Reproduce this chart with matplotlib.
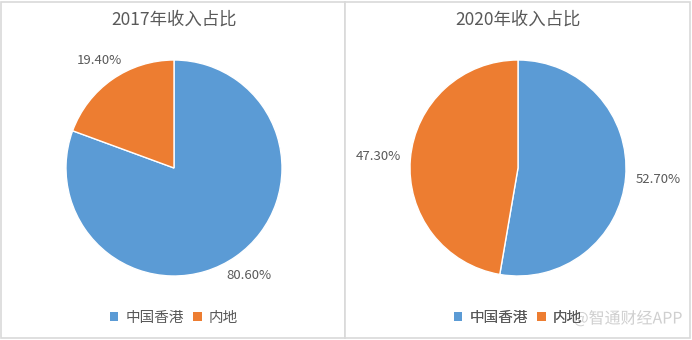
import matplotlib
matplotlib.use("Agg")
import matplotlib.pyplot as plt
from matplotlib.patches import Rectangle, Patch
import matplotlib.patheffects as pe

plt.rcParams['font.family'] = ['Noto Sans CJK SC', 'DejaVu Sans']

categories = ["中国香港", "内地"]
titles = ["2017年收入占比", "2020年收入占比"]
share_2017 = [80.60, 19.40]
share_2020 = [52.70, 47.30]
colors = ["#5B9BD5", "#ED7D31"]
text_color = "#595959"

W, H = 692, 340
fig = plt.figure(figsize=(W / 100, H / 100), dpi=100)
ax = fig.add_axes([0, 0, 1, 1])
ax.set_xlim(0, W)
ax.set_ylim(0, H)
ax.set_aspect('equal')
ax.axis('off')

# panels
border = "#d9d9d9"
ax.add_patch(Rectangle((1, 2), 344, 336, facecolor="white", edgecolor=border, lw=1.2))
ax.add_patch(Rectangle((345, 2), 345, 336, facecolor="white", edgecolor=border, lw=1.2))

panels = [
    (share_2017, titles[0], 174, 1.21),
    (share_2020, titles[1], 518, 1.30),
]
for vals, title, cx, pdist in panels:
    cy = H - 168
    wedges, texts, autotexts = ax.pie(
        vals, colors=colors, startangle=90, counterclock=False,
        center=(cx, cy), radius=108, autopct='%.2f%%', pctdistance=pdist,
        wedgeprops=dict(edgecolor="white", linewidth=1.0),
        textprops=dict(color=text_color, fontsize=9.5))
    ax.text(cx, H - 20, title, ha='center', va='center', fontsize=12.5, color=text_color)
    handles = [Patch(facecolor=c, edgecolor='none') for c in colors]
    ax.legend(handles, categories, loc='center', bbox_to_anchor=(cx, H - 318),
              bbox_transform=ax.transData, ncol=2, frameon=False, fontsize=10.5,
              handlelength=0.6, handleheight=0.6, handletextpad=0.5, columnspacing=0.6,
              labelcolor=text_color)
    ax.add_artist(ax.get_legend())

ax.set_xlim(0, W)
ax.set_ylim(0, H)

ax.text(628, H - 319, "@智通财经APP", ha='center', va='center', fontsize=11.5,
        color="#cfcfcf", path_effects=[pe.withStroke(linewidth=1.5, foreground="white")])

fig.savefig("out.png", dpi=100)
